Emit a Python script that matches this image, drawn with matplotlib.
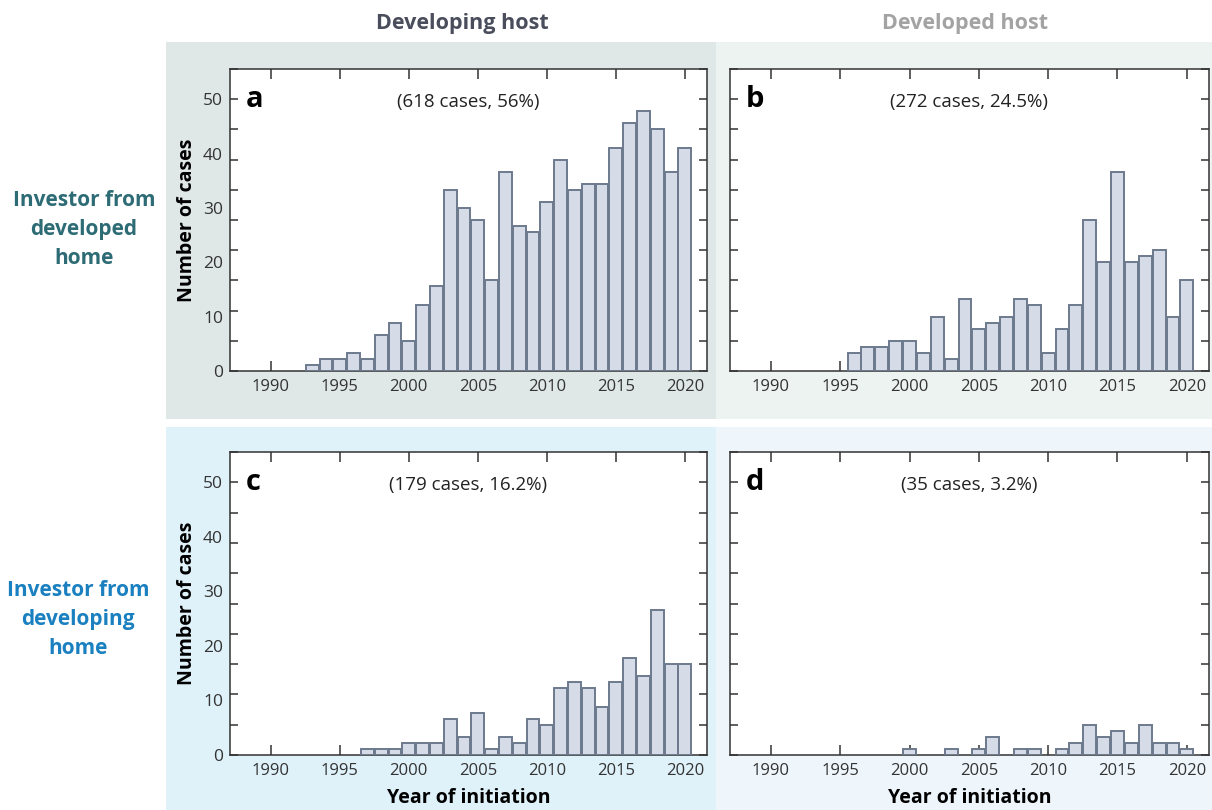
import numpy as np
import matplotlib
matplotlib.use("Agg")
import matplotlib.pyplot as plt
from matplotlib.patches import Rectangle

plt.rcParams['font.family'] = ['Open Sans', 'DejaVu Sans']

# cases per year of initiation
years_a = list(range(1993, 2021))
cases_a = [1, 2, 2, 3, 2, 6, 8, 5, 11, 14, 30, 27, 25, 15, 33, 24, 23, 28,
           35, 30, 31, 31, 37, 41, 43, 40, 33, 37]
years_b = list(range(1996, 2021))
cases_b = [3, 4, 4, 5, 5, 3, 9, 2, 12, 7, 8, 9, 12, 11, 3, 7, 11, 25, 18, 33,
           18, 19, 20, 9, 15]
years_c = list(range(1997, 2021))
cases_c = [1, 1, 1, 2, 2, 2, 6, 3, 7, 1, 3, 2, 6, 5, 11, 12, 11, 8, 12, 16,
           13, 24, 15, 15]
years_d = [2000, 2003, 2005, 2006, 2008, 2009, 2011, 2012, 2013, 2014, 2015,
           2016, 2017, 2018, 2019, 2020]
cases_d = [1, 1, 1, 3, 1, 1, 1, 2, 5, 3, 4, 2, 5, 2, 2, 1]

notes = ["(618 cases, 56%)", "(272 cases, 24.5%)", "(179 cases, 16.2%)", "(35 cases, 3.2%)"]
letters = ["a", "b", "c", "d"]
col_titles = ["Developing host", "Developed host"]
row_titles = ["Investor from\ndeveloped\nhome", "Investor from\ndeveloping\nhome"]
xticks = list(range(1990, 2021, 5))
# the original's y labels sit at 9-unit steps while the tick marks are every 5
ylab_pos = [0, 9, 18, 27, 36, 45]
ylab_txt = ["0", "10", "20", "30", "40", "50"]

W, H = 1212, 810
fig = plt.figure(figsize=(W / 100, H / 100), dpi=100)


def box(l, t, r, b):
    return [l / W, 1 - b / H, (r - l) / W, (b - t) / H]


# coloured backgrounds
bgs = [((166, 42, 716, 419), "#dfe8e6"), ((716, 42, 1212, 419), "#edf3f1"),
       ((166, 427, 716, 810), "#dff1f9"), ((716, 427, 1212, 810), "#eef6fc")]
for (l, t, r, b), c in bgs:
    x0, y0, w, h = box(l, t, r, b)
    fig.patches.append(Rectangle((x0, y0), w, h, transform=fig.transFigure,
                                 facecolor=c, edgecolor="none", zorder=-5))

axpos = [(230, 69, 707, 371), (730, 69, 1209, 371),
         (230, 452, 707, 755), (730, 452, 1209, 755)]
data = [(years_a, cases_a), (years_b, cases_b), (years_c, cases_c), (years_d, cases_d)]

for i, (pos, (yrs, vals)) in enumerate(zip(axpos, data)):
    ax = fig.add_axes(box(*pos))
    ax.bar(yrs, vals, width=0.93, color="#d5dce8", edgecolor="#6d7a8e", linewidth=1.4, zorder=3)
    ax.set_xlim(1987.05, 2021.6)
    ax.set_ylim(0, 50)
    for s in ax.spines.values():
        s.set_color("#333333")
        s.set_linewidth(1.1)
    ax.set_xticks(xticks)
    ax.set_xticklabels([str(x) for x in xticks])
    ax.set_yticks(range(0, 51, 5))
    ax.set_yticklabels([])
    ax.tick_params(axis="both", which="major", direction="in", top=True, right=True,
                   length=7, width=1.1, color="#333333", labelsize=12,
                   labelcolor="#333333", pad=6)
    ax.tick_params(axis="y", which="major", length=6)
    if i % 2 == 0:
        ax.yaxis.remove_overlapping_locs = False
        ax.set_yticks(ylab_pos, minor=True)
        ax.set_yticklabels(ylab_txt, minor=True)
        ax.tick_params(axis="y", which="minor", length=0, labelsize=12.5,
                       labelcolor="#333333", pad=5)
        ax.set_ylabel("Number of cases", fontsize=14, fontweight="bold", labelpad=4)
    if i >= 2:
        ax.set_xlabel("Year of initiation", fontsize=14, fontweight="bold", labelpad=6)
    ax.text(0.033, 0.875, letters[i], transform=ax.transAxes, fontsize=21,
            fontweight="bold", va="baseline", ha="left")
    ax.text(0.5, 0.875, notes[i], transform=ax.transAxes, fontsize=13.5,
            va="baseline", ha="center", color="#222222")

fig.text(462 / W, 1 - 23 / H, col_titles[0], fontsize=15.5, fontweight="bold",
         color="#4a4e5c", ha="center", va="center")
fig.text(965 / W, 1 - 23 / H, col_titles[1], fontsize=15.5, fontweight="bold",
         color="#a3a3a3", ha="center", va="center")
fig.text(84 / W, 1 - 230 / H, row_titles[0], fontsize=15, fontweight="bold",
         color="#2d6b75", ha="center", va="center", linespacing=1.5)
fig.text(78 / W, 1 - 620 / H, row_titles[1], fontsize=15, fontweight="bold",
         color="#1a80c0", ha="center", va="center", linespacing=1.5)

fig.savefig("out.png", dpi=100)
